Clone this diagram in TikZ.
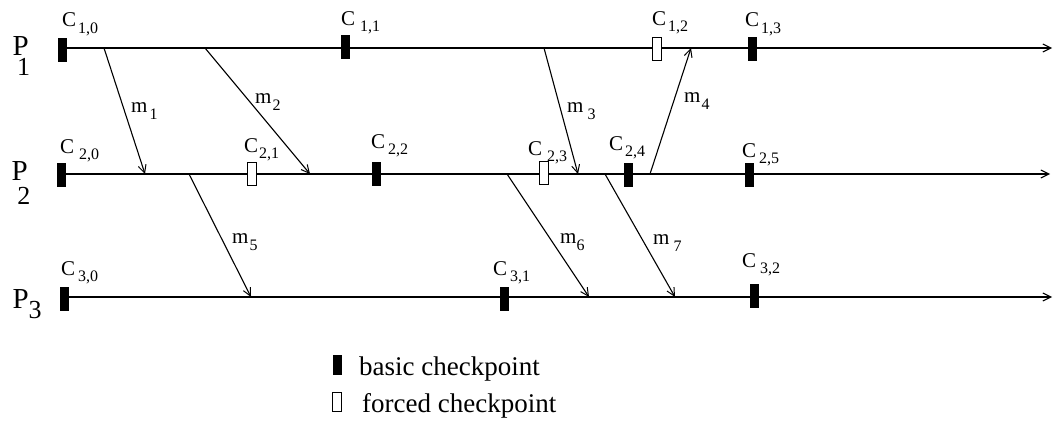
\documentclass[tikz,border=0pt]{standalone}
\usepackage{fontspec}
\setmainfont{Liberation Serif}
\usetikzlibrary{arrows.meta}
\newcommand{\ckl}[2][3pt]{\fontsize{21}{21}\selectfont C\kern#1\raisebox{-6pt}{\fontsize{16}{16}\selectfont #2}}
\newcommand{\mlab}[2][2pt]{\fontsize{21}{21}\selectfont m\kern#1\raisebox{-7pt}{\fontsize{16}{16}\selectfont #2}}
\begin{document}
\begin{tikzpicture}[x=1pt,y=-1pt,
  proc/.style={line width=1.2pt,-{Straight Barb[length=8pt,width=8pt,line width=1.1pt]}},
  msg/.style={line width=1.1pt,-{Straight Barb[length=8pt,width=8pt,line width=1pt]}},
  basic/.style={fill=black,draw=none,minimum width=9pt,minimum height=24pt,inner sep=0pt},
  forced/.style={fill=white,draw=black,line width=1pt,minimum width=9pt,minimum height=23pt,inner sep=0pt},
  lbl/.style={anchor=base west,inner sep=0pt},
  plbl/.style={anchor=base west,inner sep=0pt,font=\fontsize{29}{29}\selectfont},
  psub/.style={anchor=base west,inner sep=0pt,font=\fontsize{26}{26}\selectfont},
  legtxt/.style={anchor=base west,inner sep=0pt,font=\fontsize{27}{27}\selectfont}]
\useasboundingbox (0,0) rectangle (1056,423);
% process end points
\coordinate (e1) at (1052,48);
\coordinate (e2) at (1050,174);
\coordinate (e3) at (1052,297);
% process start points
\coordinate (p10) at (62.5,48);
\coordinate (p20) at (61.5,174);
\coordinate (p30) at (64.5,297);
% message end points
\coordinate (m1s) at (104,48);  \coordinate (m1e) at (145,174);
\coordinate (m2s) at (205,48);  \coordinate (m2e) at (310,174);
\coordinate (m3s) at (544,48);  \coordinate (m3e) at (578,174);
\coordinate (m4s) at (650,174); \coordinate (m4e) at (691,48);
\coordinate (m5s) at (189,174); \coordinate (m5e) at (251,297);
\coordinate (m6s) at (507,174); \coordinate (m6e) at (589,297);
\coordinate (m7s) at (605,174); \coordinate (m7e) at (675,297);
% process lines
\draw[proc] (p10) -- (e1);
\draw[proc] (p20) -- (e2);
\draw[proc] (p30) -- (e3);
% messages
\draw[msg] (m1s) -- (m1e);
\draw[msg] (m2s) -- (m2e);
\draw[msg] (m3s) -- (m3e);
\draw[msg] (m4s) -- (m4e);
\draw[msg] (m5s) -- (m5e);
\draw[msg] (m6s) -- (m6e);
\draw[msg] (m7s) -- (m7e);
% checkpoints
\node[basic]  (c10) at (62.5,50) {};
\node[basic]  (c11) at (345.5,47) {};
\node[forced] (c12) at (657,49) {};
\node[basic]  (c13) at (752,49) {};
\node[basic]  (c20) at (61.5,175) {};
\node[forced] (c21) at (251.5,173.5) {};
\node[basic]  (c22) at (376.5,174) {};
\node[forced] (c23) at (544,172.5) {};
\node[basic]  (c24) at (628.5,175) {};
\node[basic]  (c25) at (749,175) {};
\node[basic]  (c30) at (64.5,299) {};
\node[basic]  (c31) at (504.5,298.5) {};
\node[basic]  (c32) at (754.5,296) {};
% checkpoint labels
\node[lbl] (l10) at (62,27) {\ckl[2pt]{1,0}};
\node[lbl] (l11) at (341,25) {\ckl[5pt]{1,1}};
\node[lbl] (l12) at (652,25) {\ckl[2pt]{1,2}};
\node[lbl] (l13) at (745,27) {\ckl[2pt]{1,3}};
\node[lbl] (l20) at (60,153) {\ckl[5pt]{2,0}};
\node[lbl] (l21) at (244,152) {\ckl[1pt]{2,1}};
\node[lbl] (l22) at (371,148) {\ckl[3pt]{2,2}};
\node[lbl] (l23) at (528,155) {\ckl[5pt]{2,3}};
\node[lbl] (l24) at (609,150) {\ckl[2pt]{2,4}};
\node[lbl] (l25) at (742,157) {\ckl[3pt]{2,5}};
\node[lbl] (l30) at (61,275) {\ckl[3pt]{3,0}};
\node[lbl] (l31) at (493,275) {\ckl[3pt]{3,1}};
\node[lbl] (l32) at (742,267) {\ckl[4pt]{3,2}};
% message labels
\node[lbl] (ml1) at (131,112) {\mlab[2pt]{1}};
\node[lbl] (ml2) at (255,103) {\mlab[1pt]{2}};
\node[lbl] (ml3) at (567,112) {\mlab[4pt]{3}};
\node[lbl] (ml4) at (684,102) {\mlab[1pt]{4}};
\node[lbl] (ml5) at (232,243) {\mlab[1pt]{5}};
\node[lbl] (ml6) at (560,243) {\mlab[0pt]{6}};
\node[lbl] (ml7) at (653,244) {\mlab[4pt]{7}};
% process labels
\node[plbl] (P1) at (12.5,55) {P};
\node[psub] (P1s) at (17,75) {1};
\node[plbl] (P2) at (11.5,180) {P};
\node[psub] (P2s) at (17.2,204) {2};
\node[plbl] (P3) at (12.5,308) {P};
\node[psub] (P3s) at (28.4,318) {3};
% legend
\node[basic,minimum height=20pt]  (lb) at (337.5,365) {};
\node[forced,minimum height=19pt] (lf) at (336.5,402) {};
\node[legtxt] (tb) at (359,375) {basic checkpoint};
\node[legtxt] (tf) at (362,412) {forced checkpoint};
\end{tikzpicture}
\end{document}
